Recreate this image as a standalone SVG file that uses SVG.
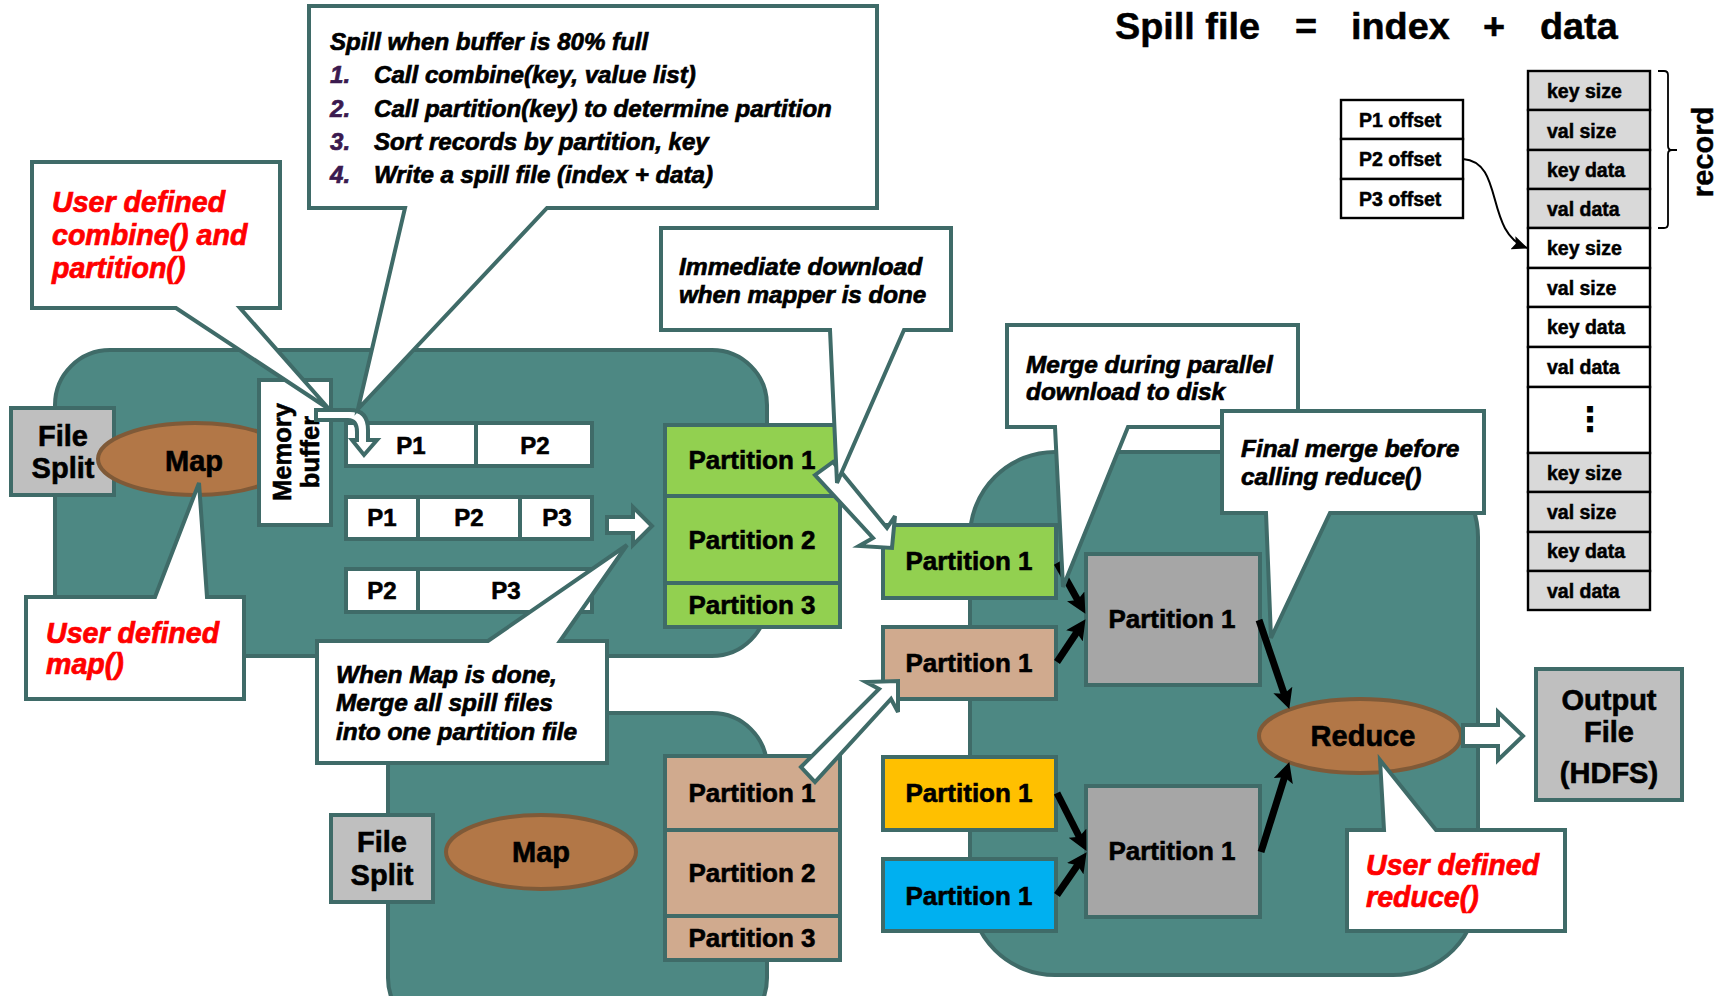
<svg xmlns="http://www.w3.org/2000/svg" width="1725" height="996" viewBox="0 0 1725 996">
<style>
text{font-family:"Liberation Sans",Arial,sans-serif;font-weight:bold;fill:#000}
.task{fill:#4d8883;stroke:#3f6b68;stroke-width:4}
.box{stroke:#3f6b68;stroke-width:4}
.w{fill:#fff;stroke:#3f6b68;stroke-width:4;stroke-linejoin:miter}
.ell{fill:#b27747;stroke:#7f5a38;stroke-width:4}
.gr{fill:#bfbfbf}.gy{fill:#a6a6a6}.g{fill:#92d050}.b{fill:#d0aa8e}.y{fill:#ffc000}.c{fill:#00b0f0}
.p{font-size:26px;text-anchor:middle;stroke:#000;stroke-width:.6}
.l{font-size:29px;text-anchor:middle;stroke:#000;stroke-width:.6}
.s{font-size:24px;text-anchor:middle;stroke:#000;stroke-width:.6}
.n{font-style:italic;font-size:24.4px;stroke:#000;stroke-width:.7}
.nn{font-size:24.100px}
.r{font-style:italic;font-size:28.6px;fill:#f00;stroke:#f00;stroke-width:.7}
.num{fill:#3b1a4f;stroke:#3b1a4f}
.h{font-size:37.800px;stroke:#000;stroke-width:.5}
.t{fill:#fff;stroke:#000;stroke-width:2.4}
.d{fill:#d9d9d9;stroke:#000;stroke-width:2.4}
.o{font-size:19.500px;stroke:#000;stroke-width:.5}
.a{fill:none;stroke:#000;stroke-width:7}
</style>
<defs>
<marker id="big" viewBox="0 0 20 20" refX="11" refY="10" markerWidth="20" markerHeight="20" markerUnits="userSpaceOnUse" orient="auto"><path d="M0 0L20 10L0 20L4 10Z" fill="#000"/></marker>
<marker id="thin" viewBox="0 0 16 14" refX="15" refY="7" markerWidth="16" markerHeight="14" markerUnits="userSpaceOnUse" orient="auto"><path d="M0 0L16 7L0 14L3 7Z" fill="#000"/></marker>
</defs>

<g id="task-map-top"><rect class="task" x="55" y="350" width="712" height="306" rx="55"/></g>
<g id="task-map-bottom"><rect class="task" x="388" y="713" width="379" height="320" rx="55"/></g>
<g id="task-reduce"><rect class="task" x="970" y="452" width="508" height="523" rx="85"/></g>

<g id="file-split-1"><rect class="box gr" x="11" y="408" width="103" height="87"/><text class="l" x="63" y="446">File</text><text class="l" x="63" y="478">Split</text></g>
<g id="map-1"><ellipse class="ell" cx="195" cy="459" rx="97" ry="36"/><text class="l" x="194" y="471">Map</text></g>
<g id="memory-buffer"><rect class="w" x="259" y="380" width="72" height="145"/><text class="s" transform="translate(291 452) rotate(-90)" style="font-size:25.500px">Memory</text><text class="s" transform="translate(319 452) rotate(-90)" style="font-size:25.500px">buffer</text></g>

<g id="spill-1"><rect class="w" x="346" y="423" width="246" height="43"/><line class="w" x1="476" y1="423" x2="476" y2="466"/><text class="s" x="411" y="454">P1</text><text class="s" x="535" y="454">P2</text></g>
<g id="spill-2"><rect class="w" x="346" y="497" width="246" height="42"/><line class="w" x1="418" y1="497" x2="418" y2="539"/><line class="w" x1="520" y1="497" x2="520" y2="539"/><text class="s" x="382" y="526">P1</text><text class="s" x="469" y="526">P2</text><text class="s" x="557" y="526">P3</text></g>
<g id="spill-3"><rect class="w" x="346" y="569" width="246" height="43"/><line class="w" x1="418" y1="569" x2="418" y2="612"/><text class="s" x="382" y="599">P2</text><text class="s" x="506" y="599">P3</text></g>

<g id="merge-arrow"><path class="w" d="M607 517H633V507L652 526L633 545V533H607Z"/></g>

<g id="map-partitions-top">
<rect class="box g" x="665" y="425" width="175" height="71"/><text class="p" x="752" y="469">Partition 1</text>
<rect class="box g" x="665" y="496" width="175" height="87"/><text class="p" x="752" y="549">Partition 2</text>
<rect class="box g" x="665" y="583" width="175" height="44"/><text class="p" x="752" y="614">Partition 3</text>
</g>
<g id="file-split-2"><rect class="box gr" x="331" y="815" width="102" height="87"/><text class="l" x="382" y="852">File</text><text class="l" x="382" y="885">Split</text></g>
<g id="map-2"><ellipse class="ell" cx="541" cy="852" rx="95" ry="37"/><text class="l" x="541" y="862">Map</text></g>
<g id="map-partitions-bottom">
<rect class="box b" x="665" y="756" width="175" height="74"/><text class="p" x="752" y="802">Partition 1</text>
<rect class="box b" x="665" y="830" width="175" height="86"/><text class="p" x="752" y="882">Partition 2</text>
<rect class="box b" x="665" y="916" width="175" height="44"/><text class="p" x="752" y="947">Partition 3</text>
</g>

<g id="copied-partitions">
<rect class="box g" x="883" y="525" width="173" height="73"/><text class="p" x="969" y="570">Partition 1</text>
<rect class="box b" x="883" y="627" width="173" height="72"/><text class="p" x="969" y="672">Partition 1</text>
<rect class="box y" x="883" y="757" width="173" height="73"/><text class="p" x="969" y="802">Partition 1</text>
<rect class="box c" x="883" y="859" width="173" height="72"/><text class="p" x="969" y="905">Partition 1</text>
</g>
<g id="merged-partitions">
<rect class="box gy" x="1086" y="554" width="174" height="131"/><text class="p" x="1172" y="628">Partition 1</text>
<rect class="box gy" x="1086" y="786" width="174" height="131"/><text class="p" x="1172" y="860">Partition 1</text>
</g>
<g id="reduce"><ellipse class="ell" cx="1360" cy="736" rx="101" ry="37"/><text class="l" x="1363" y="746">Reduce</text></g>
<g id="output-file"><rect class="box gr" x="1536" y="669" width="146" height="131"/><text class="l" x="1609" y="710">Output</text><text class="l" x="1609" y="742">File</text><text class="l" x="1609" y="783">(HDFS)</text></g>

<g id="connectors">
<path class="a" d="M1057 563L1081 606" marker-end="url(#big)"/>
<path class="a" d="M1057 662L1080.500 626.700" marker-end="url(#big)"/>
<path class="a" d="M1057 793L1082.400 843" marker-end="url(#big)"/>
<path class="a" d="M1057 895L1081.500 859.600" marker-end="url(#big)"/>
<path class="a" d="M1259 620L1286.400 700.400" marker-end="url(#big)"/>
<path class="a" d="M1261 852L1286.600 770.600" marker-end="url(#big)"/>
<path class="w" d="M1463 725H1498V712L1523 736L1498 760V746H1463Z"/>
<path class="w" d="M815 475L833 462L887 528L895 516L892 548L859 546L873 538Z"/>
<path class="w" d="M801 767L879 689L866 682L898 681L898 712L891 699L815 782Z"/>
<path class="w" d="M316 410H350Q368 410 368 430V440H377L364 455L352 440H357V432Q357 420 348 420H316Z"/>
</g>

<g id="callout-combine"><path class="w" d="M32 162H280V308H240L329 409L176 308H32Z"/><text class="r" x="52" y="212">User defined</text><text class="r" x="52" y="245">combine() and</text><text class="r" x="52" y="278">partition()</text></g>
<g id="callout-spill"><path class="w" d="M309 6H877V208H547L358 409L405 208H309Z"/>
<text class="n nn" x="330" y="50">Spill when buffer is 80% full</text>
<text class="n nn num" x="330" y="83">1.</text><text class="n nn" x="374" y="83">Call combine(key, value list)</text>
<text class="n nn num" x="330" y="116.500">2.</text><text class="n nn" x="374" y="116.500">Call partition(key) to determine partition</text>
<text class="n nn num" x="330" y="150">3.</text><text class="n nn" x="374" y="150">Sort records by partition, key</text>
<text class="n nn num" x="330" y="183">4.</text><text class="n nn" x="374" y="183">Write a spill file (index + data)</text></g>
<g id="callout-map"><path class="w" d="M26 597H155L199 483L207 597H244V699H26Z"/><text class="r" x="46" y="643">User defined</text><text class="r" x="46" y="674">map()</text></g>
<g id="callout-merge"><path class="w" d="M317 641H488L627 545L560 641H607V763H317Z"/><text class="n" x="336" y="683">When Map is done,</text><text class="n" x="336" y="711">Merge all spill files</text><text class="n" x="336" y="740">into one partition file</text></g>
<g id="callout-immediate"><path class="w" d="M661 228H951V330H904L837 483L830 330H661Z"/><text class="n" x="679" y="275" style="font-size:24.600px">Immediate download</text><text class="n" x="679" y="303" style="font-size:24.200px">when mapper is done</text></g>
<g id="callout-parallel"><path class="w" d="M1007 325H1298V427H1128L1063 587L1055 427H1007Z"/><text class="n" x="1026" y="373">Merge during parallel</text><text class="n" x="1026" y="400">download to disk</text></g>
<g id="callout-final"><path class="w" d="M1222 411H1484V513H1330L1271 638L1266 513H1222Z"/><text class="n" x="1241" y="457">Final merge before</text><text class="n" x="1241" y="485">calling reduce()</text></g>
<g id="callout-reduce"><path class="w" d="M1347 830H1384L1380 760L1436 830H1565V931H1347Z"/><text class="r" x="1366" y="875">User defined</text><text class="r" x="1366" y="907">reduce()</text></g>

<g id="heading"><text class="h" x="1115" y="39">Spill file</text><text class="h" x="1295" y="39">=</text><text class="h" x="1351" y="39">index</text><text class="h" x="1483" y="39">+</text><text class="h" x="1540" y="39">data</text></g>

<g id="index-table">
<rect class="t" x="1341" y="100" width="122" height="39"/><rect class="t" x="1341" y="139" width="122" height="40"/><rect class="t" x="1341" y="179" width="122" height="39"/>
<text class="o" x="1359" y="127">P1 offset</text><text class="o" x="1359" y="166">P2 offset</text><text class="o" x="1359" y="206">P3 offset</text>
</g>
<g id="data-table">
<rect class="d" x="1528" y="71" width="122" height="39"/><text class="o" x="1547" y="98">key size</text>
<rect class="d" x="1528" y="110" width="122" height="40"/><text class="o" x="1547" y="137.500">val size</text>
<rect class="d" x="1528" y="150" width="122" height="39"/><text class="o" x="1547" y="177">key data</text>
<rect class="d" x="1528" y="189" width="122" height="39"/><text class="o" x="1547" y="215.500">val data</text>
<rect class="t" x="1528" y="228" width="122" height="40"/><text class="o" x="1547" y="255">key size</text>
<rect class="t" x="1528" y="268" width="122" height="39"/><text class="o" x="1547" y="294.500">val size</text>
<rect class="t" x="1528" y="307" width="122" height="40"/><text class="o" x="1547" y="334">key data</text>
<rect class="t" x="1528" y="347" width="122" height="40"/><text class="o" x="1547" y="373.500">val data</text>
<rect class="t" x="1528" y="387" width="122" height="66"/><text x="1590" y="431" style="text-anchor:middle;font-size:34px;font-family:'DejaVu Sans',sans-serif">⋮</text>
<rect class="d" x="1528" y="453" width="122" height="39"/><text class="o" x="1547" y="479.500">key size</text>
<rect class="d" x="1528" y="492" width="122" height="40"/><text class="o" x="1547" y="518.500">val size</text>
<rect class="d" x="1528" y="532" width="122" height="39"/><text class="o" x="1547" y="558">key data</text>
<rect class="d" x="1528" y="571" width="122" height="39"/><text class="o" x="1547" y="597.500">val data</text>
</g>
<g id="index-link"><path d="M1463 159C1505 162 1484 232 1527 248" fill="none" stroke="#000" stroke-width="2" marker-end="url(#thin)"/></g>
<g id="record-brace"><path d="M1658 71H1664Q1668 71 1668 75V146Q1668 150 1672 150H1677M1672 150Q1668 150 1668 154V224Q1668 228 1664 228H1658" fill="none" stroke="#000" stroke-width="1.800"/><text transform="translate(1713 152) rotate(-90)" style="font-size:29px;text-anchor:middle;stroke:#000;stroke-width:.4">record</text></g>
</svg>
